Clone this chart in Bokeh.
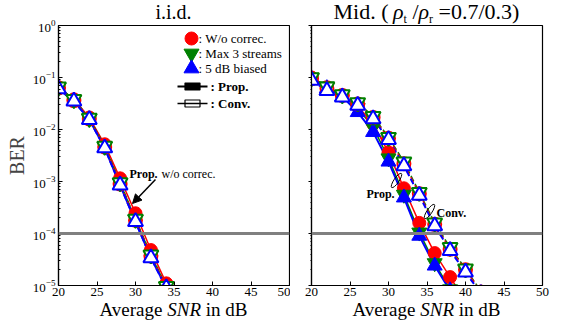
from bokeh.plotting import figure
from bokeh.layouts import row, column
from bokeh.models import Span, Label, Arrow, NormalHead, FixedTicker, Div
from bokeh.embed import file_html
from bokeh.resources import INLINE

# ---------------- data ----------------
snr_iid = [20, 22, 24, 26, 28, 30, 32, 34]
iid_prop_woc = [0.065, 0.038, 0.017, 0.0052, 1.15e-3, 2.45e-4, 4.8e-5, 1.1e-5]
iid_prop_max3 = [0.064, 0.037, 0.016, 0.0047, 9.3e-4, 1.85e-4, 3.8e-5, 9.5e-6]
iid_prop_5db = [0.060, 0.035, 0.0155, 0.0044, 8.5e-4, 1.68e-4, 3.4e-5, 9e-6]
iid_conv_woc = [0.063, 0.036, 0.016, 0.0046, 9.0e-4, 1.8e-4, 3.7e-5, 9.3e-6]
iid_conv_max3 = [0.066, 0.038, 0.0165, 0.0048, 9.5e-4, 1.9e-4, 3.9e-5, 9.6e-6]
iid_conv_5db = [0.060, 0.035, 0.0155, 0.0044, 8.5e-4, 1.68e-4, 3.4e-5, 9e-6]

snr_mid = [20, 22, 24, 26, 28, 30, 32, 34, 36, 38, 40, 42]
mid_prop_woc = [0.10, 0.065, 0.045, 0.028, 0.013, 0.0036, 7.4e-4, 1.6e-4, 4.2e-5, 1.45e-5, 5e-6, 2e-6]
mid_prop_max3 = [0.10, 0.068, 0.046, 0.026, 0.011, 0.0028, 5.6e-4, 1.05e-4, 2.7e-5, 8.5e-6, 2.5e-6, 1e-6]
mid_prop_5db = [0.095, 0.062, 0.043, 0.0215, 0.0089, 0.0024, 4.9e-4, 9e-5, 2.4e-5, 8e-6, 2e-6, 1e-6]
mid_conv_woc = [0.095, 0.062, 0.045, 0.031, 0.017, 0.0068, 0.0022, 5.8e-4, 1.5e-4, 5e-5, 2e-5, 7.5e-6]
mid_conv_max3 = [0.10, 0.066, 0.047, 0.033, 0.018, 0.0071, 0.0024, 6.2e-4, 1.6e-4, 5.4e-5, 2.1e-5, 7.8e-6]
mid_conv_5db = [0.088, 0.056, 0.042, 0.029, 0.016, 0.0064, 0.0020, 5.4e-4, 1.4e-4, 4.7e-5, 1.8e-5, 7e-6]

x_ticks = [20, 25, 30, 35, 40, 45, 50]
ber_target = 1e-4
legend_labels = [": W/o correc.", ": Max 3 streams", ": 5 dB biased"]
scheme_labels = [": Prop.", ": Conv."]

RED, GREEN, BLUE = "#ff0000", "#008000", "#0000ff"
FONT = "Liberation Serif"

# frame geometry (page px) used to place annotations
FT, DEC = 25, 52.0
def ly(py):
    return 10 ** (-(py - FT) / DEC)
def lx(px):
    return 20 + (px - 58) * 30 / 231.0
def rx(px):
    return 20 + (px - 311) * 30 / 231.0

TOP_DIV, BOT_DIV = 17, 22
FIG_H = 325 - TOP_DIV - BOT_DIV


def make_fig(width, left, right, show_ylabels):
    p = figure(width=width, height=FIG_H, x_range=(20, 50), y_range=(1e-5, 1),
               y_axis_type="log", output_backend="svg", toolbar_location=None,
               min_border_left=left, min_border_right=right,
               min_border_top=FT - TOP_DIV, min_border_bottom=FIG_H - (FT - TOP_DIV) - 260)
    p.xgrid.visible = False
    p.ygrid.visible = False
    p.outline_line_color = "black"
    p.outline_line_width = 1.2
    p.background_fill_color = "white"
    p.border_fill_alpha = 0
    p.xaxis.ticker = FixedTicker(ticks=x_ticks)
    for ax in (p.xaxis, p.yaxis):
        ax.axis_line_color = "black"
        ax.axis_line_width = 1.2
        ax.major_tick_line_color = "black"
        ax.minor_tick_line_color = "black"
        ax.major_label_text_font = FONT
        ax.major_label_text_font_size = "13px"
        ax.major_label_text_color = "black"
    p.xaxis.major_tick_in = 4
    p.xaxis.major_tick_out = 0
    p.xaxis.minor_tick_in = 0
    p.xaxis.minor_tick_out = 0
    p.xaxis.major_label_standoff = 2
    if show_ylabels:
        p.yaxis.major_tick_in = 4
        p.yaxis.major_tick_out = 0
        p.yaxis.minor_tick_in = 2
        p.yaxis.minor_tick_out = 0
        p.yaxis.major_label_standoff = 3
        p.yaxis.axis_label = "BER"
        p.yaxis.axis_label_text_font = FONT
        p.yaxis.axis_label_text_font_style = "normal"
        p.yaxis.axis_label_text_font_size = "20px"
        p.yaxis.axis_label_standoff = 2
    else:
        p.yaxis.major_label_text_font_size = "2px"
        p.yaxis.major_label_text_alpha = 0
        p.yaxis.major_label_standoff = 0
        p.yaxis.major_tick_in = 0
        p.yaxis.major_tick_out = 3
        p.yaxis.minor_tick_in = 0
        p.yaxis.minor_tick_out = 1
    p.add_layout(Span(location=ber_target, dimension="width", line_color="#808080", line_width=3))
    return p


def draw_all(p, x, prop, conv):
    pw, pg, pb = prop
    cw, cg, cb = conv
    p.line(x, pg, color=GREEN, line_width=1.5)
    p.line(x, pw, color=RED, line_width=1.5)
    p.line(x, pb, color=BLUE, line_width=2)
    p.line(x, cg, color=GREEN, line_width=1.5, line_dash="6 3")
    p.line(x, cw, color=RED, line_width=1.5, line_dash="6 3")
    p.line(x, cb, color=BLUE, line_width=2, line_dash="6 3")
    p.scatter(x, pw, marker="circle", size=13, fill_color=RED, line_color=RED)
    p.scatter(x, pg, marker="inverted_triangle", size=15, fill_color=GREEN, line_color=GREEN)
    p.scatter(x, pb, marker="triangle", size=15, fill_color=BLUE, line_color=BLUE)
    p.scatter(x, cw, marker="circle", size=13, fill_color="white", line_color=RED, line_width=2)
    p.scatter(x, cg, marker="inverted_triangle", size=15, fill_color="white", line_color=GREEN, line_width=2)
    p.scatter(x, cb, marker="triangle", size=15, fill_color="white", line_color=BLUE, line_width=2)


def text(p, x, y, s, size="12px", style="normal", align="left"):
    p.add_layout(Label(x=x, y=y, text=s, text_font=FONT, text_font_size=size,
                       text_font_style=style, text_align=align, text_baseline="middle",
                       text_color="black"))


# ---------------- left panel ----------------
p1 = make_fig(290, 58, 1, True)
draw_all(p1, snr_iid,
         (iid_prop_woc, iid_prop_max3, iid_prop_5db),
         (iid_conv_woc, iid_conv_max3, iid_conv_5db))

# hand-built legend (key markers + texts)
p1.scatter([lx(191)], [ly(38)], marker="circle", size=13, fill_color=RED, line_color=RED)
p1.scatter([lx(191)], [ly(53)], marker="inverted_triangle", size=15, fill_color=GREEN, line_color=GREEN)
p1.scatter([lx(191)], [ly(68)], marker="triangle", size=15, fill_color=BLUE, line_color=BLUE)
for lab, py in zip(legend_labels, (38, 53, 68)):
    text(p1, lx(198), ly(py), lab, size="13px")
for lab, py, fill in zip(scheme_labels, (86, 103), ("black", "white")):
    p1.add_layout(Arrow(end=None, x_start=lx(177), y_start=ly(py), x_end=lx(207), y_end=ly(py),
                        line_color="black", line_width=2 if fill == "black" else 1.5))
    p1.rect([lx(192)], [ly(py)], width=15, height=7, width_units="screen", height_units="screen",
            fill_color=fill, line_color="black", line_width=1.2)
    text(p1, lx(210), ly(py), lab, size="13px", style="bold")

text(p1, lx(129), ly(173), "Prop.", style="bold")
text(p1, lx(161), ly(173), "w/o correc.")
p1.add_layout(Arrow(end=NormalHead(size=9, fill_color="black", line_color="black"),
                    x_start=lx(155), y_start=ly(179), x_end=lx(132), y_end=ly(203),
                    line_color="black", line_width=1.5))

# ---------------- right panel ----------------
p2 = make_fig(271, 21, 19, False)
draw_all(p2, snr_mid,
         (mid_prop_woc, mid_prop_max3, mid_prop_5db),
         (mid_conv_woc, mid_conv_max3, mid_conv_5db))

text(p2, rx(366), ly(193), "Prop.", style="bold")
text(p2, rx(436), ly(212), "Conv.", style="bold")
p2.ellipse(x=[rx(396), rx(429)], y=[ly(180), ly(211)], width=5, height=17,
           width_units="screen", height_units="screen", angle=-0.6,
           fill_color=None, line_color="black", line_width=1)

# ---------------- titles and x labels (HTML) ----------------
def head(width, left, html, size=20):
    return Div(text=('<div style="width:231px;margin-left:%dpx;text-align:center;white-space:nowrap;'
                     'font-family:\'Liberation Serif\',serif;font-size:%dpx;line-height:20px;'
                     'padding-top:2px;color:black">%s</div>') % (left, size, html),
               width=width, height=TOP_DIV, margin=0, styles={"overflow": "visible"})


def foot(width, left, html):
    return Div(text=('<div style="width:231px;margin-left:%dpx;text-align:center;white-space:nowrap;'
                     'font-family:\'Liberation Serif\',serif;font-size:19px;line-height:13px;'
                     'padding-top:0px;color:black">%s</div>') % (left, html),
               width=width, height=BOT_DIV, margin=0, styles={"overflow": "visible"})


sub = '<span style="font-size:12px;position:relative;top:4px">%s</span>'
t1 = head(290, 58, "i.i.d.")
t2 = head(271, 21, "Mid. (&thinsp;<i>&rho;</i>" + sub % "t" + " /<i>&rho;</i>" + sub % "r"
          + " =0.7/0.3)", size=22)
xl = "Average <i>SNR</i> in dB"
b1 = foot(290, 58, xl)
b2 = foot(271, 21, xl)

layout = column(row(t1, t2, spacing=0), row(p1, p2, spacing=0), row(b1, b2, spacing=0), spacing=0)
open("out.html", "w").write(file_html(layout, INLINE))
